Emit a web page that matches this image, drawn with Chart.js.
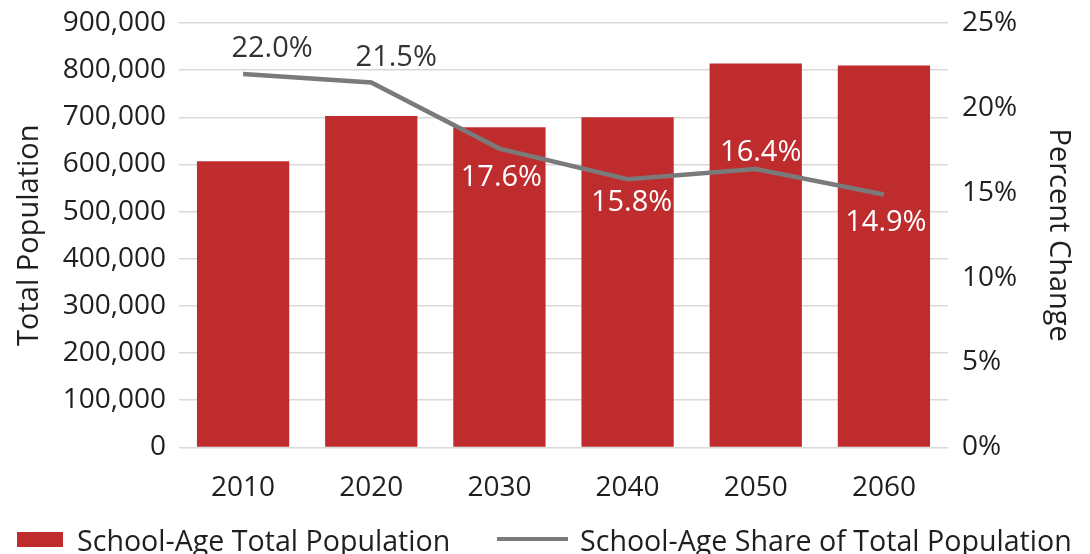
<!DOCTYPE html>
<html>
<head>
<meta charset="utf-8">
<script src="https://cdn.jsdelivr.net/npm/chart.js@4/dist/chart.umd.min.js"></script>
<style>
  html, body { margin: 0; padding: 0; background: #fff; }
  #wrap { position: relative; width: 1090px; height: 554px; font-family: "Open Sans", sans-serif; color: #1f1f1f; }
  #chartBox { position: absolute; left: 0; top: 0; width: 1090px; height: 521px; }
  .item { position: absolute; top: 518px; font-size: 28.6px; white-space: nowrap; display: flex; align-items: center; height: 42px; }
  .swatch { display: inline-block; width: 46px; height: 15px; background: #bf2c2e; margin-right: 14px; }
  .lineSw { display: inline-block; width: 71px; height: 4px; background: #7a7a7a; margin-right: 12px; }
</style>
</head>
<body>
<div id="wrap">
  <div id="chartBox"><canvas id="chart"></canvas></div>
  <div class="item" style="left:17px"><span class="swatch"></span>School-Age Total Population</div>
  <div class="item" style="left:497px"><span class="lineSw"></span>School-Age Share of Total Population</div>
</div>
<script>
// data
const years = ["2010", "2020", "2030", "2040", "2050", "2060"];
const population = [607000, 703000, 679000, 700000, 814000, 810000];
const shareOfTotal = [22.0, 21.5, 17.6, 15.8, 16.4, 14.9];

// label placement for the share line (offset from point, colour)
const labelStyle = [
  { dx: 29, dy: -25, color: "#333333" },
  { dx: 25, dy: -25, color: "#333333" },
  { dx: 2, dy: 29, color: "#ffffff" },
  { dx: 4, dy: 24, color: "#ffffff" },
  { dx: 5, dy: -16, color: "#ffffff" },
  { dx: 2, dy: 28, color: "#ffffff" }
];

const FONT = "'Open Sans', sans-serif";
const TXT = "#1f1f1f";

const shareLabels = {
  id: "shareLabels",
  afterDatasetsDraw(chart) {
    const ctx = chart.ctx;
    const meta = chart.getDatasetMeta(1);
    ctx.save();
    ctx.font = "29px " + FONT;
    ctx.textAlign = "center";
    ctx.textBaseline = "middle";
    meta.data.forEach((pt, i) => {
      const s = labelStyle[i];
      ctx.fillStyle = s.color;
      ctx.fillText(shareOfTotal[i].toFixed(1) + "%", pt.x + s.dx, pt.y + s.dy);
    });
    ctx.restore();
  }
};

new Chart(document.getElementById("chart"), {
  type: "bar",
  data: {
    labels: years,
    datasets: [{
      label: "School-Age Total Population",
      data: population,
      yAxisID: "y",
      backgroundColor: "#bf2c2e",
      barPercentage: 0.72,
      categoryPercentage: 1.0,
      order: 1
    }, {
      type: "line",
      label: "School-Age Share of Total Population",
      data: shareOfTotal,
      yAxisID: "y2",
      borderColor: "#7a7a7a",
      borderWidth: 4.5,
      pointRadius: 0,
      tension: 0,
      order: 0
    }]
  },
  options: {
    responsive: true,
    maintainAspectRatio: false,
    animation: false,
    layout: { padding: { top: 0, left: 8, right: 6, bottom: 0 } },
    plugins: {
      legend: { display: false },
      tooltip: { enabled: false }
    },
    scales: {
      x: {
        grid: { display: false },
        border: { display: false },
        ticks: { color: TXT, font: { family: FONT, size: 28 }, padding: 16 }
      },
      y: {
        position: "left",
        min: 0,
        max: 900000,
        border: { display: false },
        grid: { color: "#d9d9d9", lineWidth: 1.5, drawTicks: false },
        ticks: {
          stepSize: 100000,
          padding: 13,
          color: TXT,
          font: { family: FONT, size: 28 },
          callback: v => v.toLocaleString("en-US")
        },
        title: { display: true, text: "Total Population", color: TXT, font: { family: FONT, size: 29 }, padding: { top: 4, bottom: 0 } },
        afterFit: s => { s.width = 171; s.paddingTop = 23; }
      },
      y2: {
        position: "right",
        min: 0,
        max: 25,
        border: { display: false },
        grid: { drawOnChartArea: false, drawTicks: false },
        ticks: {
          stepSize: 5,
          padding: 14,
          color: TXT,
          font: { family: FONT, size: 28 },
          callback: v => v + "%"
        },
        title: { display: true, text: "Percent Change", color: TXT, font: { family: FONT, size: 29 }, padding: { top: 8, bottom: 0 } },
        afterFit: s => { s.width = 136; s.paddingTop = 23; }
      }
    }
  },
  plugins: [shareLabels]
});
</script>
</body>
</html>
